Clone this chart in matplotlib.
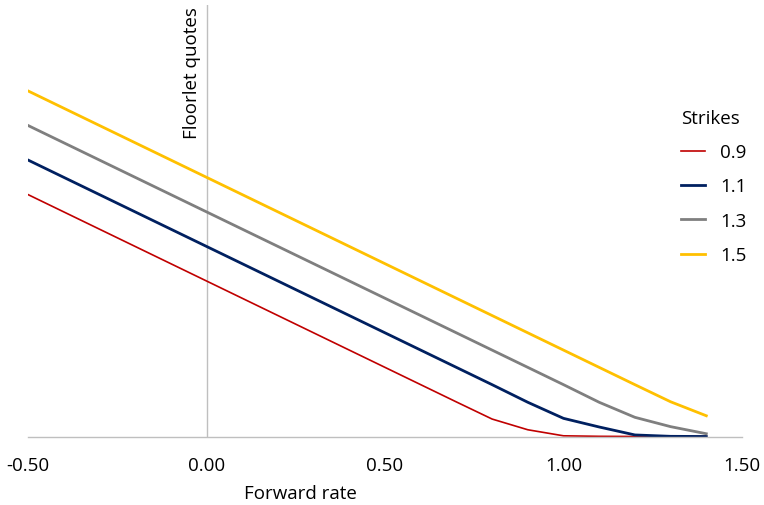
import numpy as np
import matplotlib.pyplot as plt
from matplotlib.lines import Line2D

plt.rcParams['font.family'] = ['Open Sans', 'DejaVu Sans']

fwd = [-0.5, -0.4, -0.3, -0.2, -0.1, 0.0, 0.1, 0.2, 0.3, 0.4, 0.5,
       0.6, 0.7, 0.8, 0.9, 1.0, 1.1, 1.2, 1.3, 1.4]
strikes = ['0.9', '1.1', '1.3', '1.5']
q09 = [1.4, 1.3, 1.2, 1.1, 1.0, 0.9, 0.8, 0.7, 0.6, 0.5, 0.4,
       0.3, 0.2, 0.101, 0.039, 0.004, 0.001, 0.0, 0.0, 0.0]
q11 = [1.6, 1.5, 1.4, 1.3, 1.2, 1.1, 1.0, 0.9, 0.8, 0.7, 0.6,
       0.5, 0.4, 0.3, 0.198, 0.105, 0.055, 0.009, 0.001, 0.0]
q13 = [1.8, 1.7, 1.6, 1.5, 1.4, 1.3, 1.2, 1.1, 1.0, 0.9, 0.8,
       0.7, 0.6, 0.5, 0.4, 0.3, 0.198, 0.111, 0.057, 0.016]
q15 = [2.0, 1.9, 1.8, 1.7, 1.6, 1.5, 1.4, 1.3, 1.2, 1.1, 1.0,
       0.9, 0.8, 0.7, 0.6, 0.5, 0.4, 0.3, 0.201, 0.120]
colors = ['#C00000', '#002060', '#7F7F7F', '#FFC000']
widths = [1.2, 2.0, 2.0, 2.0]

fs = 13.5
fig = plt.figure(figsize=(7.64, 5.06), dpi=100)
ax = fig.add_axes([28 / 764, 1 - 437.5 / 506, 714 / 764, 432 / 506])

handles = []
for s, q, c, w in zip(strikes, [q09, q11, q13, q15], colors, widths):
    h, = ax.plot(fwd, q, color=c, lw=w, label=s)
    handles.append(h)

ax.axvline(0, color='#BFBFBF', lw=1, zorder=0)
ax.set_xlim(-0.5, 1.5)
ax.set_ylim(0, 2.5)
ax.set_xticks([-0.5, 0, 0.5, 1.0, 1.5])
ax.set_xticklabels(['-0.50', '0.00', '0.50', '1.00', '1.50'], fontsize=fs, color='#000000')
ax.tick_params(axis='x', length=0, pad=14)
ax.set_yticks([])
for sp in ['top', 'right', 'left']:
    ax.spines[sp].set_visible(False)
ax.spines['bottom'].set_color('#BFBFBF')
ax.spines['bottom'].set_linewidth(1)

ax.text(-0.016, 2.49, 'Floorlet quotes', rotation=90, ha='right', va='top', fontsize=fs)
fig.text(300 / 764, 1 - 494 / 506, 'Forward rate', ha='center', va='center', fontsize=fs)

leg = ax.legend(handles=handles, title='Strikes', loc='upper left',
                bbox_to_anchor=(664 / 764, 1 - 93 / 506), bbox_transform=fig.transFigure,
                frameon=False, fontsize=fs, title_fontsize=fs,
                handlelength=1.3, handletextpad=0.8, labelspacing=0.87)
leg._legend_box.align = 'left'

fig.savefig('out.png', dpi=100)
